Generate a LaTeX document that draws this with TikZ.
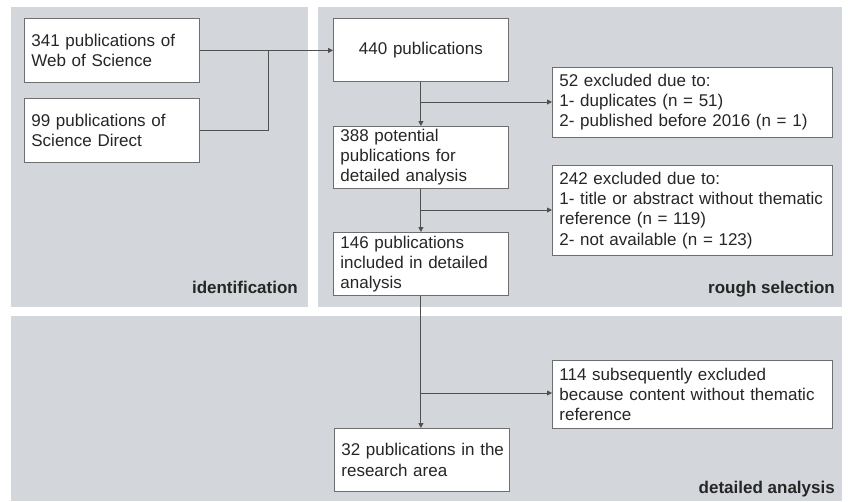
\documentclass[tikz,border=0pt]{standalone}
\usepackage{fontspec}
\setmainfont{Liberation Sans}
\usetikzlibrary{arrows.meta}
\definecolor{panel}{HTML}{D3D6DA}
\definecolor{edge}{HTML}{6E6E6E}
\definecolor{wire}{HTML}{505050}
\definecolor{ink}{HTML}{262626}
\begin{document}
\begin{tikzpicture}[x=1pt,y=-1pt,
  panelbox/.style={fill=panel,draw=none},
  entry/.style={draw=edge,line width=0.8pt,fill=white,anchor=north west,
    inner xsep=7pt,inner ysep=0pt,align=left,text=ink,
    font=\fontsize{17}{20.2}\selectfont},
  narrowbox/.style={entry,text width=161pt,minimum height=#1},
  widebox/.style={entry,text width=266pt,minimum height=#1},
  tag/.style={anchor=base east,inner sep=0pt,text=ink,
    font=\fontsize{17}{20}\selectfont\bfseries},
  wire/.style={draw=wire,line width=0.9pt},
  arr/.style={wire,-{Triangle[length=5pt,width=5pt]}}
]
\useasboundingbox (0,0) rectangle (849,501);
\fill[white] (0,0) rectangle (849,501);

% phase panels
\fill[panelbox] (11,7) rectangle (308,307);
\fill[panelbox] (318,7) rectangle (842,307);
\fill[panelbox] (11,316) rectangle (842,501);

\node[tag] (lid) at (298,293) {identification};
\node[tag] (lrs) at (835,293) {rough selection};
\node[tag] (lda) at (835,493) {detailed analysis};

% identification sources
\node[narrowbox=64pt] (wos) at (24,18) {341 publications of\\Web of Science};
\node[narrowbox=64pt] (sd) at (24,98) {99 publications of\\Science Direct};

% main flow
\node[narrowbox=63pt,align=center] (p440) at (333,18) {440 publications};
\node[narrowbox=62pt] (p388) at (333,126) {388 potential\\publications for\\detailed analysis};
\node[narrowbox=63pt] (p146) at (333,232) {146 publications\\included in detailed\\analysis};
\node[narrowbox=63pt] (p32) at (334,428) {\mbox{32 publications in the}\\research area};

% exclusions
\node[widebox=70pt] (ex52) at (552,67) {52 excluded due to:\\1- duplicates (n = 51)\\2- published before 2016 (n = 1)};
\node[widebox=90pt] (ex242) at (552,165) {242 excluded due to:\\1- title or abstract without thematic\\reference (n = 119)\\2- not available (n = 123)};
\node[widebox=68pt] (ex114) at (552,360) {114 subsequently excluded\\because content without thematic\\reference};

% merging the two sources
\coordinate (join) at (268,50);
\draw[wire] (sd.east) -| (join);
\draw[arr] (wos.east) -- (wos.east -| p440.west);

% vertical flow with branches
\coordinate (b1) at (420.5,102);
\coordinate (b2) at (420.5,210);
\coordinate (b3) at (420.5,393);
\draw[arr] (p440.south) -- (p388.north);
\draw[arr] (p388.south) -- (p146.north);
\draw[arr] (p146.south) -- (p146.south |- p32.north);
\draw[arr] (b1) -- (b1 -| ex52.west);
\draw[arr] (b2) -- (b2 -| ex242.west);
\draw[arr] (b3) -- (b3 -| ex114.west);
\end{tikzpicture}
\end{document}
